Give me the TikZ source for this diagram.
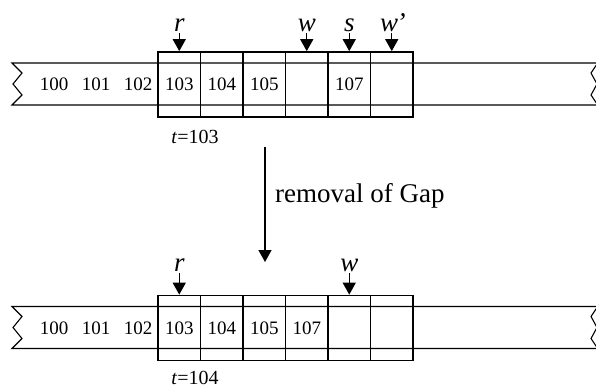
\documentclass[tikz,border=0pt]{standalone}
\usepackage{fontspec}
\setmainfont{Liberation Serif}
\usetikzlibrary{arrows.meta}

\tikzset{
  tape/.style={line width=1.1pt, line join=miter},
  cell/.style={draw, line width=1.7pt, minimum width=42.5pt, minimum height=65pt,
    inner sep=0pt, font=\fontsize{19}{19}\selectfont},
  num/.style={inner sep=0pt, font=\fontsize{19}{19}\selectfont},
  lab/.style={anchor=base, inner sep=0pt, font=\fontsize{27}{27}\selectfont\itshape},
  tlab/.style={anchor=base, inner sep=0pt, font=\fontsize{20}{20}\selectfont},
  ptr/.style={-{Triangle[width=13pt,length=12pt]}, line width=1.4pt},
}

\begin{document}
\begin{tikzpicture}[x=1pt,y=-1pt]
    \useasboundingbox (0,0) rectangle (596,389);

    % Bande du haut
    \draw[tape] (597,63) -- (12,63) -- (22,73) -- (13,84) -- (22,95) -- (12,105) -- (597,105);
    \draw[tape] (597,64) -- (591,73) -- (597,84) -- (591,95) -- (597,104);

    % Cases du haut
    \foreach \i/\val in {1/103,2/104,3/105,4/{},5/107,6/{}}
        \node[cell] (t\i) at ({136.75+42.5*\i},84.5) {\val};
    \foreach \x/\val in {54/100,96/101,138/102}
        \node[num] (tn\val) at (\x,84.5) {\val};

    % Pointeurs du haut
    \node[lab] (tr) at (179.25,31) {r};
    \node[lab] (tw) at (306.75,31) {w};
    \node[lab] (ts) at (349.25,31) {s};
    \node[lab] (tw2) at (392.75,31) {w\kern-1.5pt\textquoteright};
    \draw[ptr] ([yshift=-2pt]tr.base) -- (t1.north);
    \draw[ptr] ([yshift=-2pt]tw.base) -- (t4.north);
    \draw[ptr] ([yshift=-2pt]ts.base) -- (t5.north);
    \draw[ptr] ([yshift=-2pt]tw2.base -| t6.north) -- (t6.north);

    \node[tlab] (tt) at (195,143) {\textit{t}=103};

    % Transition
    \coordinate (gapa) at (265,147);
    \coordinate (gapb) at (265,262);
    \draw[ptr] (gapa) -- (gapb);
    \node[anchor=base west, inner sep=0pt, font=\fontsize{27}{27}\selectfont] (gap) at (275,202) {removal of Gap};

    % Bande du bas
    \draw[tape] (597,306.5) -- (12,306.5) -- (22,316.5) -- (13,327.5) -- (22,338.5) -- (12,348.5) -- (597,348.5);
    \draw[tape] (597,307.5) -- (591,316.5) -- (597,327.5) -- (591,338.5) -- (597,347.5);

    % Cases du bas
    \foreach \i/\val in {1/103,2/104,3/105,4/107,5/{},6/{}}
        \node[cell] (b\i) at ({136.75+42.5*\i},328) {\val};
    \foreach \x/\val in {54/100,96/101,138/102}
        \node[num] (bn\val) at (\x,328) {\val};

    % Pointeurs du bas
    \node[lab] (br) at (179.25,271) {r};
    \node[lab] (bw) at (349.25,271) {w};
    \draw[ptr] ([yshift=-2pt]br.base) -- (b1.north);
    \draw[ptr] ([yshift=-2pt]bw.base) -- (b5.north);

    \node[tlab] (bt) at (195,384) {\textit{t}=104};

\end{tikzpicture}
\end{document}
